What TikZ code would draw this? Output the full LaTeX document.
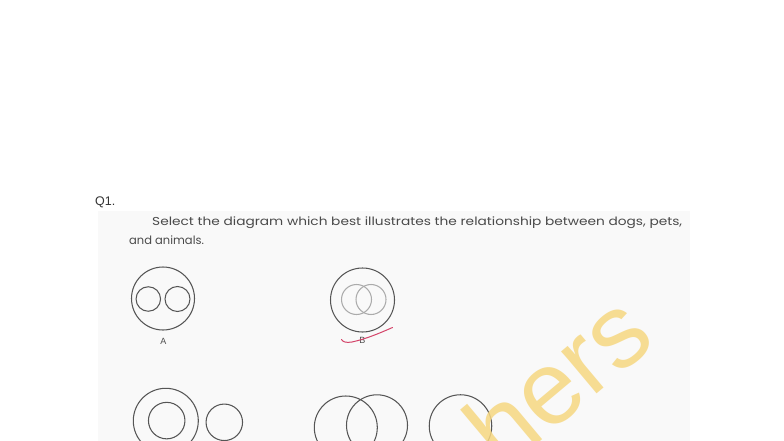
\documentclass[tikz,border=0pt]{standalone}
\usepackage{fontspec}
\setmainfont{Liberation Sans}
\newfontfamily\qfont{Poppins}
\newfontfamily\wmfont{Liberation Sans}
\usepackage{graphicx}
\definecolor{panel}{HTML}{F9F9F9}
\definecolor{ink}{HTML}{555555}
\definecolor{lightink}{HTML}{ABABAB}
\definecolor{txt}{HTML}{4A4A4A}
\definecolor{wm}{HTML}{F6D781}
\definecolor{redmark}{HTML}{D4456A}
\tikzset{
  circ/.style={draw=ink, line width=1.05pt},
  lightcirc/.style={draw=lightink, line width=1.05pt},
  lbl/.style={font=\fontsize{9}{10}\selectfont, text=ink!90!black, inner sep=0pt},
  qtext/.style={font=\qfont\fontsize{11.5}{14}\selectfont, text=txt, inner sep=0pt, anchor=base west}
}
\begin{document}
\begin{tikzpicture}[x=1pt,y=-1pt]
\useasboundingbox (0,0) rectangle (784,441);
\clip (0,0) rectangle (784,441);
\fill[white] (0,0) rectangle (784,441);
\fill[panel] (98,211) rectangle (690,441);
% title
\node[anchor=base west, inner sep=0pt, text=black!80, font=\fontsize{12.5}{14}\selectfont] (q) at (95,205) {Q1.};
\node[qtext] (l1) at (152,225) {\resizebox{530pt}{\height}{Select the diagram which best illustrates the relationship between dogs, pets,}};
\node[qtext] (l2) at (129,244) {and animals.};
% A
\node[circ, circle, minimum size=63pt, inner sep=0pt] (Ao) at (163,298.5) {};
\node[circ, circle, minimum size=24.5pt, inner sep=0pt] (Al) at (148.3,299) {};
\node[circ, circle, minimum size=25pt, inner sep=0pt] (Ar) at (177.5,299) {};
\node[lbl] (Al2) at (163.3,341.5) {A};
% B
\node[circ, circle, minimum size=64pt, inner sep=0pt] (Bo) at (362.5,300) {};
\node[lightcirc, circle, minimum size=30pt, inner sep=0pt] (Bl) at (356.5,299.5) {};
\node[lightcirc, circle, minimum size=30pt, inner sep=0pt] (Br) at (371,299.5) {};
\node[lbl] (Bl2) at (362.3,340.5) {B};
\coordinate (r1) at (341.5,339.5);
\coordinate (r2) at (392.5,327.5);
\draw[redmark, line width=1pt, line cap=round] (r1) .. controls (343,342) and (346,343) .. (352,342) .. controls (366,339) and (380,333) .. (r2);
% C
\node[circ, circle, minimum size=65pt, inner sep=0pt] (Co) at (165.8,420.8) {};
\node[circ, circle, minimum size=36.5pt, inner sep=0pt] (Ci) at (166.7,420.6) {};
\node[circ, circle, minimum size=36.5pt, inner sep=0pt] (Cs) at (224.3,422.3) {};
% D
\node[circ, circle, minimum size=63pt, inner sep=0pt] (Dl) at (345.8,427.5) {};
\node[circ, circle, minimum size=61pt, inner sep=0pt] (Dr) at (377,425.3) {};
\node[circ, circle, minimum size=62.5pt, inner sep=0pt] (Ds) at (460.5,426) {};
% watermark
\node[anchor=base west, inner sep=0pt, rotate=40, text=wm, opacity=0.85, font=\wmfont\fontsize{104}{110}\selectfont] (wmk) at (503,473) {hers};
\end{tikzpicture}
\end{document}
